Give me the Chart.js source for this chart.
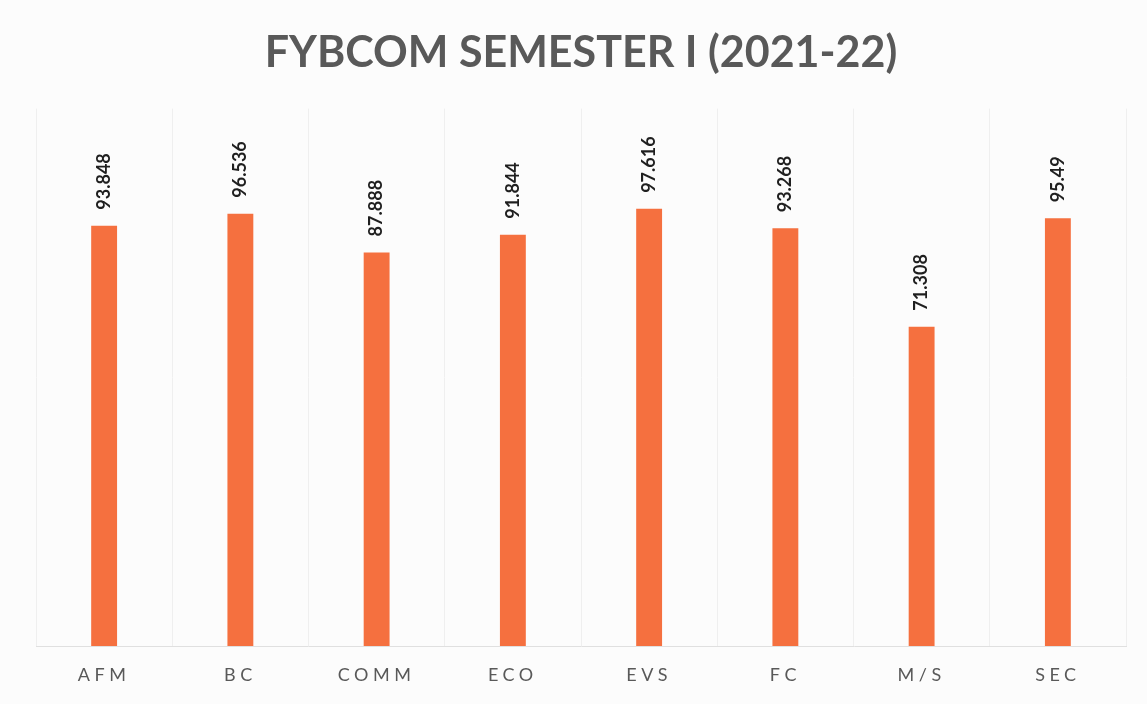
<!DOCTYPE html>
<html>
<head>
<meta charset="utf-8">
<title>FYBCOM SEMESTER I (2021-22)</title>
<script src="https://cdn.jsdelivr.net/npm/chart.js@4/dist/chart.umd.min.js"></script>
<style>
    body { margin: 0; background: #fcfcfc; }
    #wrap { width: 1147px; height: 704px; position: relative; }
</style>
</head>
<body>
<div id="wrap"><canvas id="barGraph"></canvas></div>
<script>
// Subjects and their averages
const subjects = ["AFM", "BC", "COMM", "ECO", "EVS", "FC", "M/S", "SEC"];
const scores = [93.848, 96.536, 87.888, 91.844, 97.616, 93.268, 71.308, 95.49];

const barColour = "#f5703f";
const labelSpacing = "4.5px";

// Draws the rotated value above every bar, then turns on letter spacing for the x labels
const valueLabels = {
    id: "valueLabels",
    beforeDraw(chart) {
        chart.ctx.letterSpacing = "0px";
    },
    afterDatasetsDraw(chart) {
        const ctx = chart.ctx;
        const meta = chart.getDatasetMeta(0);
        ctx.save();
        ctx.letterSpacing = "0px";
        ctx.font = "bold 18px Lato";
        ctx.fillStyle = "#1f1f1f";
        ctx.textAlign = "left";
        ctx.textBaseline = "middle";
        meta.data.forEach((bar, i) => {
            ctx.save();
            ctx.translate(bar.x, bar.y - 16);
            ctx.rotate(-Math.PI / 2);
            ctx.fillText(String(scores[i]), 0, 0);
            ctx.restore();
        });
        ctx.restore();
        // x tick labels are drawn after this (z: 1)
        ctx.letterSpacing = labelSpacing;
    },
    afterDraw(chart) {
        chart.ctx.letterSpacing = "0px";
    }
};

new Chart(document.getElementById("barGraph").getContext("2d"), {
    type: "bar",
    data: {
        labels: subjects,
        datasets: [{
            data: scores,
            backgroundColor: barColour,
            barPercentage: 0.19,
            categoryPercentage: 1
        }]
    },
    options: {
        responsive: true,
        maintainAspectRatio: false,
        animation: false,
        layout: {
            padding: { left: 36, right: 21, top: 0, bottom: 0 }
        },
        plugins: {
            legend: { display: false },
            tooltip: { enabled: false },
            title: {
                display: true,
                text: "FYBCOM SEMESTER I (2021-22)",
                color: "#595959",
                font: { family: "Lato", size: 43, weight: "bold" },
                padding: { top: 27, bottom: 30 }
            }
        },
        scales: {
            x: {
                grid: {
                    color: "#efefef",
                    drawTicks: false,
                    offset: true
                },
                border: { color: "#e0e0e0" },
                ticks: {
                    z: 1,
                    padding: 20,
                    color: "#595959",
                    font: { family: "Lato", size: 18, lineHeight: 1 }
                }
            },
            y: {
                display: false,
                min: 0,
                max: 120
            }
        }
    },
    plugins: [valueLabels]
});
</script>
</body>
</html>
